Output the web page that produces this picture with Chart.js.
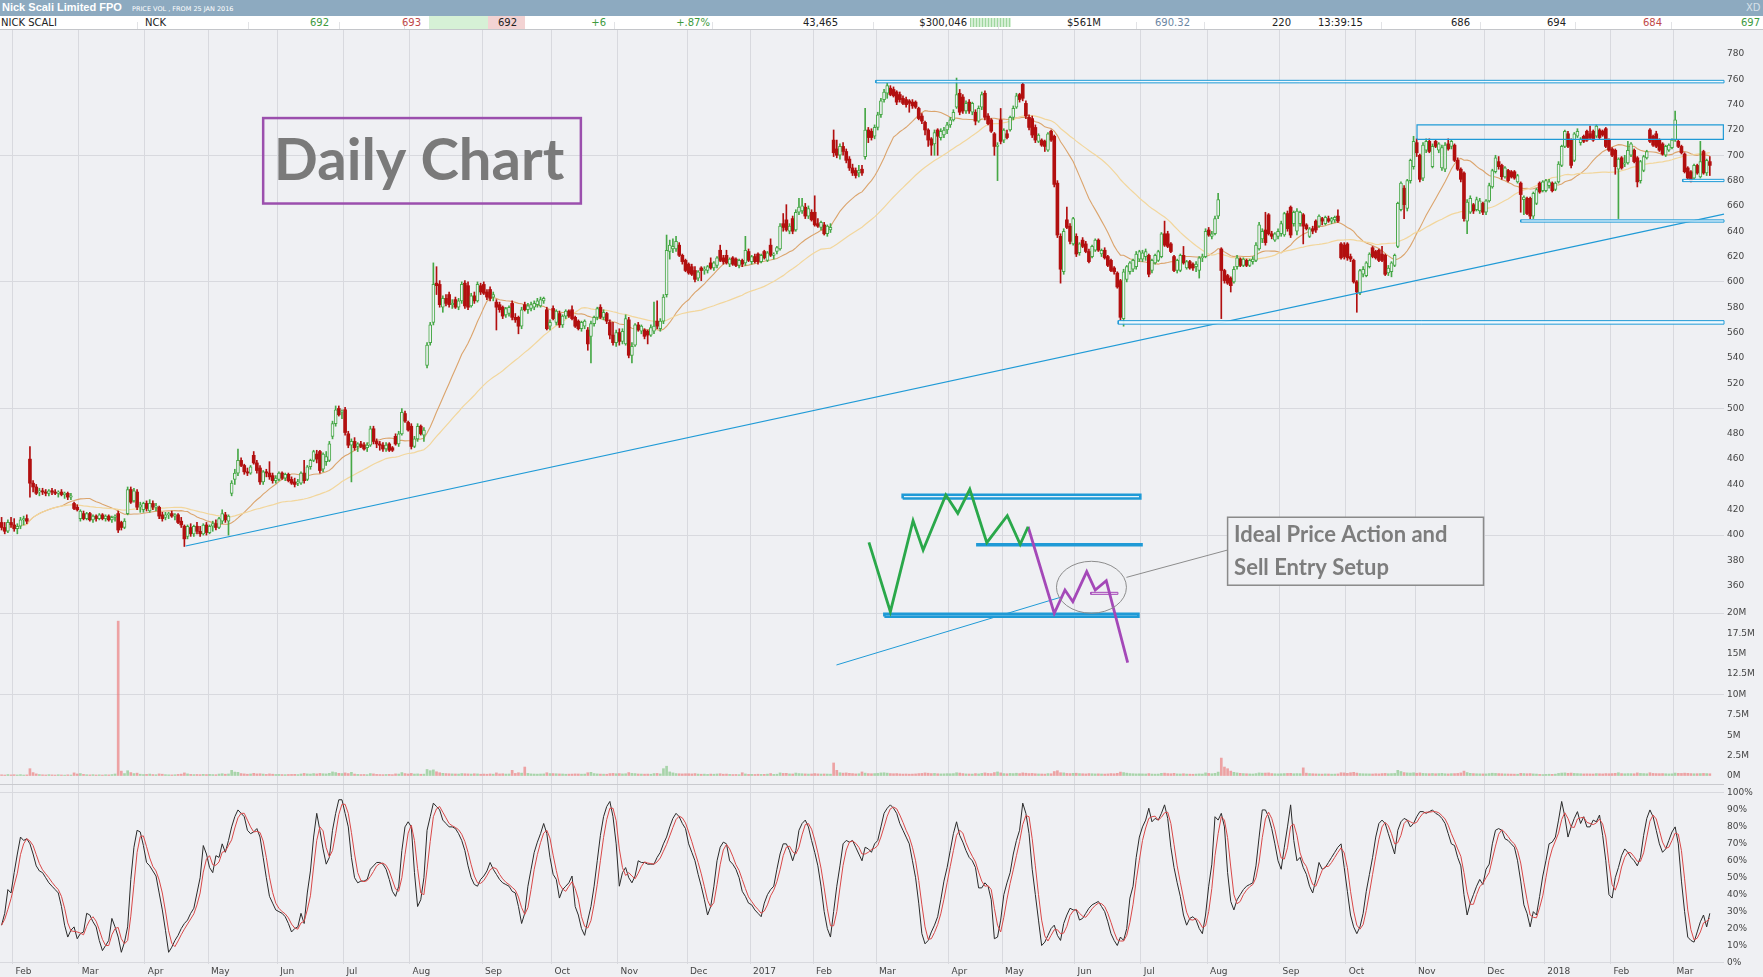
<!DOCTYPE html>
<html><head><meta charset="utf-8">
<script src="https://cdn.jsdelivr.net/npm/chart.js@4.4.1/dist/chart.umd.min.js"></script>
<style>
html,body{margin:0;padding:0;background:#eff0f3;width:1763px;height:977px;overflow:hidden}
#c{position:absolute;left:0;top:0}
#hdr{position:absolute;left:0;top:0;width:1763px;height:16px;background:#8daac0;color:#fff;z-index:2}
#row{position:absolute;left:0;top:16px;width:1763px;height:13px;background:#fff;border-bottom:1px solid #c4c6ca;z-index:2;font:10px 'DejaVu Sans',sans-serif;color:#222}
#row span{position:absolute;top:0px;line-height:13px;white-space:nowrap}
.r{text-align:right}
</style></head>
<body>
<div id="hdr">
 <span style="position:absolute;left:2px;top:1px;font:bold 11px 'Liberation Sans',sans-serif;">Nick Scali Limited FPO</span>
 <span style="position:absolute;left:132px;top:5px;font:6.5px 'DejaVu Sans',sans-serif;">PRICE VOL , FROM 25 JAN 2016</span>
 <span style="position:absolute;left:1746px;top:2px;font:10px 'DejaVu Sans',sans-serif;color:#d6e0e8">XD</span>
</div>
<div id="row"></div>
<canvas id="c" width="1763" height="977"></canvas>
<script>
// ---------------- DATA ----------------
// daily candles [open, high, low, close], 25 Jan 2016 - 16 Mar 2018
const candles = [
// Jan 2016
[410,414,404,406],[406,410,401,403],[403,412,402,410],[410,414,406,408],
// Feb 2016
[408,413,403,405],[405,409,401,407],[407,414,405,412],[412,415,408,413],[413,416,409,411],[460,470,430,441],[441,443,434,438],[438,440,432,433],[434,437,431,435],[435,437,432,434],[434,436,431,433],[433,436,431,435],[435,437,432,434],[434,436,432,433],[433,435,430,434],[434,436,431,432],[432,434,429,433],[433,434,428,430],[430,433,428,431],[425,426,420,421],[422,424,419,420],
// Mar 2016
[413,420,411,419],[417,419,412,413],[413,418,412,417],[417,418,411,412],[412,416,410,415],[415,416,411,413],[413,417,412,416],[416,417,412,413],[413,416,411,415],[415,416,411,412],[412,415,410,414],[414,416,411,415],[417,419,402,404],[410,411,404,406],[406,413,405,411],[417,438,416,436],[436,438,425,426],[427,437,426,435],[434,436,420,422],[422,426,418,424],[420,426,418,425],
// Apr 2016
[425,427,419,421],[419,428,418,425],[425,427,420,422],[422,425,419,423],[422,423,413,415],[416,418,411,413],[414,418,412,416],[416,418,413,417],[417,419,414,415],[415,417,412,416],[416,417,409,410],[411,414,406,408],[407,408,391,397],[399,408,397,407],[406,409,399,401],[401,408,399,407],[407,410,401,403],[403,407,399,401],[401,409,400,408],[408,410,400,402],
// May 2016
[402,408,401,407],[407,411,403,409],[409,412,404,406],[406,414,405,413],[411,420,409,417],[416,418,410,412],[411,416,400,415],[433,443,431,441],[444,452,440,449],[449,468,447,459],[459,461,454,455],[455,456,448,450],[450,453,447,449],[449,455,448,454],[463,466,456,457],[457,459,449,451],[453,455,440,442],[442,451,440,450],[450,452,446,449],[449,458,444,446],[447,449,441,443],[443,447,441,445],
// Jun 2016
[444,450,443,449],[449,450,444,445],[445,449,443,448],[448,449,442,443],[444,446,440,441],[442,445,438,440],[441,444,439,442],[441,450,440,449],[449,459,441,443],[444,455,443,454],[454,460,452,459],[459,467,458,466],[464,467,457,460],[466,467,449,451],[452,465,450,464],[458,466,455,462],[459,474,458,472],[478,490,476,488],[488,502,486,499],[500,502,494,495],[497,499,492,497],
// Jul 2016
[499,501,479,481],[480,482,469,471],[471,476,442,474],[474,477,467,469],[470,473,466,472],[472,474,469,470],[471,473,467,468],[469,473,466,471],[471,486,470,484],[484,486,472,474],[474,476,469,472],[472,474,467,471],[471,473,466,468],[468,473,466,471],[472,473,466,467],[469,470,466,467],[478,480,471,472],[472,482,470,480],[480,500,479,497],[496,498,489,490],[489,490,482,483],
// Aug 2016
[486,488,468,470],[470,478,469,476],[476,488,474,486],[486,487,479,480],[479,485,474,483],[534,552,532,550],[552,568,550,566],[568,615,566,598],[599,612,590,597],[598,601,580,582],[580,589,576,587],[587,590,581,583],[590,592,580,582],[582,586,579,583],[586,588,579,580],[580,587,578,585],[585,600,583,598],[599,601,579,581],[597,600,578,580],[581,591,580,589],[589,592,583,585],[585,600,584,598],[597,599,590,592],
// Sep 2016
[598,600,590,591],[592,594,586,588],[594,596,585,587],[588,592,585,590],[584,586,562,580],[582,584,576,578],[580,581,571,573],[574,580,572,579],[575,581,573,580],[583,585,570,572],[572,575,568,570],[572,573,559,565],[565,580,563,578],[582,584,577,578],[578,583,575,581],[579,584,577,582],[580,585,578,583],[582,587,580,585],[581,588,580,586],[585,588,583,587],[578,580,562,563],[565,570,562,568],
// Oct 2016
[579,581,570,571],[568,578,566,577],[575,577,564,566],[566,574,564,573],[573,578,571,577],[577,578,572,573],[578,581,570,571],[572,573,564,565],[569,570,562,563],[563,569,561,568],[565,570,563,569],[562,564,546,551],[557,569,536,567],[567,573,565,572],[572,580,570,579],[580,582,571,572],[572,578,570,576],[575,576,567,569],[568,570,555,558],[558,568,550,552],[552,562,549,560],
// Nov 2016
[560,563,550,553],[553,563,551,561],[551,574,550,571],[570,572,540,542],[542,552,536,549],[550,567,549,566],[566,568,561,562],[561,566,559,565],[562,563,555,557],[561,562,551,558],[558,566,557,564],[561,584,559,565],[569,585,563,565],[563,571,561,569],[569,590,567,588],[590,637,588,625],[624,633,618,629],[626,634,623,628],[626,636,624,632],[629,631,620,621],[621,622,614,616],[617,618,608,609],
// Dec 2016
[614,615,606,607],[612,614,605,606],[609,612,600,602],[603,609,601,608],[611,612,601,609],[609,612,606,610],[609,613,607,612],[615,619,610,611],[611,616,609,615],[613,620,611,619],[625,629,616,617],[619,621,614,616],[621,625,614,615],[614,619,612,618],[619,620,613,614],[618,619,612,613],[613,618,611,617],[617,618,612,614],[615,636,613,625],[624,626,616,617],
// Jan 2017
[616,621,614,620],[620,622,615,616],[622,623,614,616],[616,622,615,621],[624,625,618,619],[617,624,616,623],[629,634,620,621],[621,623,618,622],[624,628,622,627],[626,646,625,644],[646,654,640,643],[649,661,640,641],[640,646,638,644],[650,652,638,640],[641,657,640,655],[655,666,653,659],[656,666,654,660],[659,662,650,652],[652,660,650,658],[655,657,648,649],
// Feb 2017
[655,668,644,645],[646,650,643,644],[643,648,641,647],[645,647,637,638],[638,645,636,644],[641,646,639,643],[712,720,699,702],[705,712,698,700],[700,709,697,707],[707,710,700,703],[703,705,694,696],[697,699,688,690],[690,693,684,686],[688,690,682,684],[686,692,683,688],[689,692,684,686],[699,737,697,720],[720,722,710,714],[719,721,712,714],[715,724,713,722],
// Mar 2017
[722,734,720,732],[732,745,730,743],[744,752,742,750],[749,757,745,755],[753,755,747,748],[752,754,746,747],[750,751,740,742],[748,750,742,744],[745,747,740,741],[744,746,738,740],[743,744,734,741],[742,744,737,739],[742,743,737,738],[737,738,728,729],[731,733,725,727],[726,727,716,720],[720,721,707,712],[713,714,700,708],[709,720,700,718],[720,721,700,715],[714,721,712,719],[716,722,714,720],[720,726,717,724],
// Apr 2017
[724,730,722,728],[728,736,727,734],[738,761,737,748],[749,752,732,734],[746,748,733,735],[735,743,733,741],[742,744,733,735],[734,742,732,741],[734,736,724,727],[727,739,726,737],[738,750,736,748],[749,751,728,730],[731,733,724,725],[728,729,718,719],[717,718,700,707],[707,710,680,708],[728,737,709,711],
// May 2017
[712,721,710,720],[717,720,713,714],[720,731,719,730],[730,739,728,737],[738,749,737,747],[748,749,742,744],[756,757,743,745],[741,743,729,731],[730,732,720,722],[729,731,714,716],[722,724,710,712],[711,717,710,716],[712,713,707,708],[711,712,703,707],[704,718,703,717],[719,720,711,712],[715,716,675,677],[678,680,635,637],[636,638,599,610],[608,642,606,640],[649,659,642,643],[644,646,630,632],[630,651,629,650],
// Jun 2017
[636,638,620,622],[623,631,621,630],[633,635,627,628],[630,632,623,624],[624,626,615,616],[620,629,619,628],[625,634,624,633],[633,634,624,625],[622,626,620,625],[625,627,618,619],[620,621,612,613],[617,618,608,609],[611,612,606,608],[607,608,595,596],[601,602,570,572],[571,610,565,608],[602,613,600,612],[608,616,606,615],[610,618,608,617],[612,624,610,622],[618,625,616,624],
// Jul 2017
[618,625,616,623],[620,626,617,624],[621,622,604,606],[609,618,607,617],[615,622,614,621],[617,625,616,624],[620,639,619,638],[638,648,628,629],[638,640,627,628],[630,631,623,624],[620,621,608,609],[609,618,607,617],[609,622,608,621],[621,628,614,615],[611,617,610,616],[616,617,610,611],[614,615,609,611],[612,616,608,614],[609,620,603,619],[619,622,616,620],[620,642,619,640],
// Aug 2017
[641,643,636,637],[636,640,634,638],[638,652,637,650],[652,670,650,665],[626,627,571,609],[609,610,599,601],[605,606,598,599],[603,604,592,597],[600,612,599,610],[612,621,610,619],[618,619,612,613],[613,619,612,618],[617,618,612,613],[613,618,612,617],[616,620,614,618],[617,631,616,629],[626,647,625,645],[634,642,631,640],[641,655,629,631],[653,654,637,638],[638,640,634,636],[633,639,632,638],[636,642,634,640],
// Sep 2017
[638,648,636,646],[637,655,636,654],[654,656,640,642],[659,660,635,637],[646,656,644,655],[640,658,637,656],[646,656,644,655],[653,654,630,644],[645,646,641,642],[636,643,635,642],[642,644,638,640],[648,649,639,641],[644,653,643,652],[650,651,645,648],[646,652,645,651],[650,652,647,648],[648,651,646,650],[649,652,647,651],[652,657,647,648],[630,631,618,619],[629,631,618,620],
// Oct 2017
[630,631,617,619],[620,622,616,618],[617,618,599,600],[600,601,576,592],[591,610,590,609],[606,612,604,610],[605,616,604,615],[612,623,611,622],[627,628,619,620],[624,625,618,619],[625,626,616,617],[622,628,616,617],[621,622,605,606],[607,613,605,611],[608,616,604,615],[613,622,612,621],[628,663,627,662],[657,679,656,678],[674,676,650,661],[658,681,656,680],[680,697,678,696],[691,715,689,711],
// Nov 2017
[710,713,699,702],[700,701,679,681],[682,710,680,708],[704,713,702,711],[711,713,702,703],[691,709,690,707],[711,712,706,707],[704,710,702,709],[690,708,688,706],[689,710,687,708],[709,713,704,705],[707,712,705,711],[708,709,695,696],[696,698,688,689],[689,690,679,681],[686,687,648,650],[648,665,638,663],[655,668,654,666],[661,662,654,656],[657,667,656,665],[656,666,654,664],[662,663,653,655],
// Dec 2017
[655,665,653,664],[664,678,663,676],[675,689,674,688],[687,700,686,698],[695,699,689,691],[692,693,681,683],[683,691,682,690],[688,689,679,680],[687,688,682,683],[687,688,681,682],[679,685,678,684],[678,679,655,669],[665,668,653,667],[666,667,653,654],[666,667,650,652],[652,671,650,670],[662,674,661,673],[678,679,670,671],[672,680,671,679],
// Jan 2018
[672,681,671,680],[676,681,674,679],[678,679,671,672],[673,679,672,678],[679,695,678,693],[692,708,691,707],[707,720,706,719],[717,719,706,707],[712,713,690,692],[696,718,695,717],[715,721,714,719],[710,714,708,713],[715,716,710,711],[719,720,711,712],[717,723,713,714],[719,720,711,712],[715,724,714,723],[720,721,713,714],[719,720,715,716],[721,722,706,707],[712,713,703,704],
// Feb 2018
[705,706,699,700],[704,705,685,691],[689,698,650,697],[698,699,689,690],[693,700,691,694],[694,711,693,704],[700,710,699,709],[704,705,694,695],[698,699,675,679],[680,696,678,695],[688,700,687,699],[698,704,697,703],[720,721,710,711],[715,716,707,708],[717,719,706,707],[712,713,703,704],[709,710,700,701],[700,708,699,707],[704,709,703,708],[706,713,705,712],
// Mar 2018
[712,735,711,728],[711,712,706,707],[707,708,701,702],[701,702,686,687],[690,691,681,682],[687,688,679,680],[682,693,681,692],[692,693,685,686],[683,711,682,695],[703,704,685,686],[686,697,684,696],[695,699,684,692]
];

// daily volume, thousands of shares
const volumesK = [
150,120,180,140,
160,130,170,120,140,900,420,260,180,150,130,170,140,120,160,130,110,150,120,380,250,
300,200,160,140,170,130,150,120,160,140,180,250,19000,600,300,650,420,300,350,220,180,
200,240,180,160,260,220,170,150,140,160,200,230,380,260,200,180,190,170,210,180,
200,180,160,240,280,220,250,700,480,450,300,260,220,250,330,260,280,240,200,260,220,190,
200,180,170,190,200,210,180,250,320,260,240,300,260,320,280,260,330,500,420,330,300,
380,300,450,240,200,180,190,170,300,260,200,180,170,190,200,170,260,240,420,300,250,
320,240,260,220,230,800,650,750,520,400,330,300,280,260,250,240,300,280,260,240,280,260,220,
240,220,260,230,380,260,280,240,250,700,320,400,350,1100,320,260,240,230,250,260,400,300,
300,280,260,250,220,230,240,260,250,230,240,400,450,300,260,240,230,220,300,320,280,
300,260,280,420,320,300,250,240,230,240,220,300,320,260,900,1200,500,380,300,280,260,280,
280,260,300,240,220,230,200,240,220,250,280,220,240,200,180,190,170,400,250,200,
200,190,220,200,210,230,300,200,220,380,320,330,260,250,360,300,280,260,240,250,
300,260,240,250,240,230,1600,700,400,350,380,330,300,260,280,500,350,300,280,300,
320,380,400,350,300,280,300,260,240,250,230,240,260,300,320,380,340,300,320,280,260,270,290,
280,300,400,360,300,260,250,240,300,260,320,380,320,300,420,500,380,
300,280,320,300,340,300,380,340,300,320,280,260,250,240,300,280,550,650,400,380,320,300,330,
340,300,280,260,300,280,260,270,250,240,260,300,280,330,480,420,350,300,280,260,270,
260,250,300,240,230,240,330,350,300,280,330,260,250,280,240,230,220,240,260,240,380,
320,280,330,480,2200,1100,900,600,450,380,330,300,280,260,250,300,380,350,360,380,300,280,260,
280,300,320,330,280,300,290,1000,350,300,280,260,250,240,260,250,230,240,260,400,380,
330,400,450,360,300,280,270,260,250,280,260,300,320,280,300,320,700,550,420,380,360,400,
340,380,320,300,290,310,280,300,330,280,260,290,300,320,380,600,420,330,300,280,270,260,
260,300,340,320,300,280,260,250,240,230,220,330,300,280,300,260,240,200,180,
200,220,210,230,320,360,380,330,360,320,300,280,260,270,260,250,300,280,260,300,280,
300,330,400,300,280,300,290,280,380,320,300,280,400,320,300,290,300,280,260,270,
360,330,320,350,330,300,280,290,300,320,300,280
];

// stochastic %K (black line), read per day
const stochK = [
22,29,43,41,
53,64,74,72,73,70,64,57,54,53,50,47,45,43,41,33,22,15,19,21,14,
17,18,29,28,24,21,13,7,10,13,26,21,15,6,12,21,49,68,78,77,69,
59,57,54,51,41,31,19,6,9,13,16,20,23,25,29,32,41,50,69,64,
56,53,63,62,70,65,72,80,86,90,88,86,78,76,77,79,74,62,50,39,35,31,
30,29,27,23,18,20,21,29,23,41,54,74,88,78,67,58,62,78,88,96,96,
88,80,62,50,47,48,48,49,55,57,59,59,58,55,49,42,39,45,66,80,83,
80,53,33,37,50,78,86,94,92,90,84,82,80,80,79,76,72,66,57,50,46,45,49,
51,54,59,55,52,49,47,46,45,42,41,33,23,29,45,55,65,71,76,82,76,62,
52,49,38,43,45,47,51,33,28,20,16,25,33,45,60,75,86,92,95,86,70,
45,53,56,50,47,51,60,59,59,58,58,58,62,65,70,74,80,85,88,86,82,79,
70,65,60,52,45,37,28,33,45,60,68,71,70,60,58,55,50,42,39,35,
34,31,29,27,35,40,43,45,55,64,70,70,66,60,66,78,82,84,80,72,
65,57,45,30,20,15,30,45,57,70,72,71,72,68,64,60,68,67,65,70,
72,80,88,91,93,91,88,82,78,74,70,60,50,35,17,11,13,18,22,27,37,48,56,
66,76,83,75,71,66,62,60,56,44,44,47,45,37,14,15,25,
40,47,53,64,72,78,94,88,76,55,40,25,10,12,16,20,22,16,13,23,28,32,31,
31,25,26,29,32,34,35,36,33,30,24,17,13,10,15,13,20,38,45,62,74,
80,84,91,83,85,84,88,93,85,68,56,47,39,28,22,26,27,25,20,17,28,
45,58,86,84,88,80,53,36,31,37,40,43,45,46,47,57,74,90,90,86,79,70,60,
55,68,80,93,72,60,62,56,52,45,41,49,59,55,56,59,62,65,68,70,56,
42,28,21,17,21,29,42,52,62,74,82,84,82,76,70,64,78,83,85,84,80,82,
86,89,89,88,89,90,88,87,85,82,76,70,69,62,57,40,28,35,40,45,49,46,
55,58,70,78,79,78,73,72,70,68,60,48,34,29,21,30,28,39,51,
60,70,71,74,84,95,86,74,80,85,89,82,86,80,80,84,83,87,75,60,40,
38,50,56,63,67,65,62,60,57,62,75,85,90,86,78,70,65,67,72,77,
80,70,48,30,15,13,12,18,24,28,21,29
];

const monthNames = ['Jan','Feb','Mar','Apr','May','Jun','Jul','Aug','Sep','Oct','Nov','Dec'];
const asxHolidays = ['2016-01-26','2016-03-25','2016-03-28','2016-04-25','2016-06-13','2016-12-26','2016-12-27',
 '2017-01-02','2017-01-26','2017-04-14','2017-04-17','2017-04-25','2017-06-12','2017-12-25','2017-12-26','2018-01-01','2018-01-26'];
const priceTicks = [360,380,400,420,440,460,480,500,520,540,560,580,600,620,640,660,680,700,720,740,760,780];
const volumeTicks = [0,2.5,5,7.5,10,12.5,15,17.5,20];
const stochTicks = [0,10,20,30,40,50,60,70,80,90,100];

// annotation geometry in (trading-day index, price)
const trendMain = [[58.4,391.4],[546.5,653.5]];
const zoneTop = [277.4,546.5,757.2,759.2];
const zoneHigh = [449.1,546.3,712.6,724.0];
const zoneMid = [482.0,546.5,647.2,649.0];
const zoneSmall = [533.4,546.5,679.2,681.0];
const zoneLow = [354.3,546.5,566.6,569.4];
const idealTopBox = [285.9,361.3,428.9,431.9];
const idealBottomBox = [280.1,360.7,335.6,337.9];
const idealMidLine = [[309.2,392.3],[362.1,392.3]];
const idealGreen = [[275.2,394.3],[282.0,339.5],[289.2,411.4],[292.4,388.2],[299.6,431.7],[303.4,417.2],[307.2,436.2],[312.6,394.0],[319.1,415.3],[323.2,392.7],[325.7,406.6]];
const idealPurple = [[325.7,406.6],[334.0,338.2],[337.4,356.6],[339.9,347.4],[344.3,371.1],[347.0,356.6],[350.5,364.0],[357.3,299.2]];
const idealTrend = [[264.9,297.4],[336.7,351.4]];
const entryMark = [345.6,354.2,353.2,354.8];
const connector = [[356.9,366.6],[389.0,388.2]];
const circle = {cx:345.8, cy:358.8, rx:11.1, ry:20.5};
const dailyBox = [83.0,183.8,661.9,729.4];
const idealBox = [389.0,470.2,360.4,414.1];

// ---------------- HEADER ROW ----------------
const rowCells = [
 {t:'NICK SCALI',l:1},{t:'NCK',l:145},{t:'692',r:329,c:'#3d9a3d'},{t:'693',r:421,c:'#c04848'},
 {t:'692',r:517},{t:'+6',r:606,c:'#3d9a3d'},{t:'+.87%',r:710,c:'#3d9a3d'},{t:'43,465',r:838},
 {t:'$300,046',r:967},{t:'$561M',r:1101},{t:'690.32',r:1190,c:'#6b86a3'},{t:'220',r:1291},
 {t:'13:39:15',l:1318},{t:'686',r:1470},{t:'694',r:1566},{t:'684',r:1662,c:'#c04848'},{t:'697',r:1760,c:'#3d9a3d'}
];
(function(){
 const row = document.getElementById('row');
 let h = '<span style="left:429px;width:59px;height:13px;background:#d6f1d6"></span>'+
         '<span style="left:488px;width:37px;height:13px;background:#f3d3d3"></span>'+
         '<span style="left:970px;top:2px;width:41px;height:9px;background:repeating-linear-gradient(90deg,#9fd69f 0 1px,#d4efd4 1px 3px)"></span>';
 [137,248,339,404,614,712,873,998,1136,1204,1381,1480,1575,1671].forEach(x=>{h+='<span style="left:'+x+'px;top:6px;width:1px;height:7px;background:#e2e3e6"></span>';});
 rowCells.forEach(c=>{
   const col = c.c ? 'color:'+c.c+';' : '';
   if (c.l!==undefined) h += '<span style="left:'+c.l+'px;'+col+'">'+c.t+'</span>';
   else h += '<span class="r" style="right:'+(1763-c.r)+'px;'+col+'">'+c.t+'</span>';
 });
 row.innerHTML = h;
})();

// ---------------- BUILD ----------------
const BG='#eff0f3', GRID='#d8d9de', GREEN='#46a846', RED='#b20f0f';
const closes = candles.map(c=>c[3]);
function sma(arr,n){return arr.map((_,i)=>{const s=Math.max(0,i-n+1);let t=0;for(let j=s;j<=i;j++)t+=arr[j];return t/(i-s+1);});}
const sma20 = sma(closes,20), sma50 = sma(closes,50);
const stochD = sma(stochK,3);

// trading calendar -> month ticks
const days=[];
(function(){let d=new Date(Date.UTC(2016,0,25));while(days.length<candles.length){const wd=d.getUTCDay();const iso=d.toISOString().slice(0,10);if(wd!==0&&wd!==6&&asxHolidays.indexOf(iso)<0)days.push(new Date(d));d.setUTCDate(d.getUTCDate()+1);}})();
const monthTicks=[];
days.forEach((d,i)=>{if(i>0&&d.getUTCMonth()!==days[i-1].getUTCMonth())monthTicks.push({value:i-0.5,label:' '+(d.getUTCMonth()===0?String(d.getUTCFullYear()):monthNames[d.getUTCMonth()])});});

const isUp = candles.map(c=>c[3]>=c[0]);
const wicks = candles.map((c,i)=>({x:i,y:[c[2],c[1]]}));
const upBodies=[], downBodies=[];
candles.forEach((c,i)=>{const b={x:i,y:[Math.min(c[0],c[3]),Math.max(c[0],c[3])]};(isUp[i]?upBodies:downBodies).push(b);});
const vols = volumesK.map((v,i)=>({x:i,y:v*1000}));
const pts = a=>a.map(p=>({x:p[0],y:p[1]}));
const rect = r=>[{x:r[0],y:r[2]},{x:r[1],y:r[2]},{x:r[1],y:r[3]},{x:r[0],y:r[3]},{x:r[0],y:r[2]}];

function lineDS(data,color,width,order,extra){return Object.assign({type:'line',yAxisID:'yp',data:data,borderColor:color,borderWidth:width,pointRadius:0,tension:0,fill:false,order:order,borderJoinStyle:'miter'},extra||{});}
function noteDS(data,color,width,order,extra){return lineDS(data,color,width,order,Object.assign({clip:false},extra||{}));}
function shapeDS(r,color,fillc,width){return noteDS(rect(r),color,width,1,{backgroundColor:fillc,fill:fillc?'shape':false});}

const BLUE='#1f9ad6';
const datasets = [
 {type:'bar',yAxisID:'yv',data:vols,backgroundColor:isUp.map(u=>u?'rgba(110,190,110,0.55)':'rgba(235,110,110,0.6)'),barThickness:2,grouped:false,order:9},
 {type:'line',yAxisID:'ys',data:stochK.map((v,i)=>({x:i,y:v})),borderColor:'#2a2a2a',borderWidth:1,pointRadius:0,tension:0,order:8},
 {type:'line',yAxisID:'ys',data:stochD.map((v,i)=>({x:i,y:v})),borderColor:'#d94848',borderWidth:1,pointRadius:0,tension:0,order:7},
 lineDS(sma50.map((v,i)=>({x:i,y:v})),'#f2d69c',1.2,6),
 lineDS(sma20.map((v,i)=>({x:i,y:v})),'#dba46c',1.1,6),
 {type:'bar',yAxisID:'yp',data:wicks,backgroundColor:isUp.map(u=>u?GREEN:RED),barThickness:1,grouped:false,order:5},
 {type:'bar',yAxisID:'yp',data:upBodies,backgroundColor:BG,borderColor:GREEN,borderWidth:1,borderSkipped:false,barThickness:3,grouped:false,minBarLength:1,order:4},
 {type:'bar',yAxisID:'yp',data:downBodies,backgroundColor:RED,borderColor:RED,borderWidth:0,borderSkipped:false,barThickness:3,grouped:false,minBarLength:1,order:4},
 noteDS(pts(trendMain),BLUE,1.2,2),
 shapeDS(zoneTop,BLUE,'rgba(240,250,255,0.9)',1),
 shapeDS(zoneHigh,BLUE,null,1.2),
 shapeDS(zoneMid,BLUE,'rgba(240,250,255,0.9)',1),
 shapeDS(zoneSmall,BLUE,'rgba(240,250,255,0.9)',1),
 shapeDS(zoneLow,BLUE,'rgba(240,250,255,0.9)',1),
 noteDS(pts(idealTrend),BLUE,1,2),
 shapeDS(idealTopBox,BLUE,'#e2f2fa',2.6),
 shapeDS(idealBottomBox,BLUE,'#e2f2fa',2.6),
 noteDS(pts(idealMidLine),BLUE,3.5,1),
 noteDS(pts(idealGreen),'#2aa84a',2.8,0),
 noteDS(pts(idealPurple),'#a448b8',2.8,0),
 shapeDS(entryMark,'#a448b8','#ecdcf0',1),
 noteDS(pts(connector),'#8c8c8c',1,0)
];

const tickFont = {family:"'DejaVu Sans', sans-serif", size:9};
const fix39 = s=>{s.width=39;};
const notes = {
 id:'notes',
 beforeDatasetsDraw(chart){
   const {ctx, chartArea, scales} = chart;
   ctx.save(); ctx.strokeStyle='#c9cace'; ctx.lineWidth=1;
   const y = Math.round(scales.yv.bottom)+0.5;
   ctx.beginPath(); ctx.moveTo(chartArea.left,y); ctx.lineTo(chartArea.right,y); ctx.stroke();
   ctx.restore();
 },
 afterDatasetsDraw(chart){
   const {ctx, scales:{x, yp}} = chart;
   const X=v=>x.getPixelForValue(v), Y=v=>yp.getPixelForValue(v);
   ctx.save();
   // circle round the entry
   ctx.strokeStyle='#8c8c8c'; ctx.lineWidth=1;
   ctx.beginPath();
   ctx.ellipse(X(circle.cx),Y(circle.cy),X(circle.cx+circle.rx)-X(circle.cx),Y(circle.cy-circle.ry)-Y(circle.cy),0,0,Math.PI*2);
   ctx.stroke();
   // Daily Chart box
   let x0=X(dailyBox[0]), x1=X(dailyBox[1]), yT=Y(dailyBox[3]), yB=Y(dailyBox[2]);
   ctx.strokeStyle='#9b4fad'; ctx.lineWidth=2.5;
   ctx.strokeRect(x0,yT,x1-x0,yB-yT);
   ctx.fillStyle='#7a7a7a'; ctx.font="bold 58px Lato, 'Open Sans', sans-serif"; ctx.textAlign='center'; ctx.textBaseline='alphabetic';
   ctx.fillText('Daily Chart',(x0+x1)/2-3,yT+62);
   // Ideal price action box
   x0=X(idealBox[0]); x1=X(idealBox[1]); yT=Y(idealBox[3]); yB=Y(idealBox[2]);
   ctx.fillStyle=BG; ctx.fillRect(x0,yT,x1-x0,yB-yT);
   ctx.strokeStyle='#8a8a8a'; ctx.lineWidth=1.5; ctx.strokeRect(x0,yT,x1-x0,yB-yT);
   ctx.fillStyle='#7d7d7d'; ctx.font="bold 22px Lato, 'Open Sans', sans-serif"; ctx.textAlign='left';
   ctx.fillText('Ideal Price Action and',x0+6.5,yT+24.5);
   ctx.fillText('Sell Entry Setup',x0+6.5,yT+57.5);
   ctx.restore();
 }
};

new Chart(document.getElementById('c'),{
 type:'bar',
 data:{datasets:datasets},
 plugins:[notes],
 options:{
  responsive:false, animation:false, events:[],
  layout:{padding:{top:30,left:0,right:0,bottom:0}},
  plugins:{legend:{display:false},tooltip:{enabled:false}},
  scales:{
   x:{type:'linear',position:'bottom',min:-0.5,max:546.5,offset:false,
      afterBuildTicks:s=>{s.ticks=monthTicks.map(t=>({value:t.value}));},
      afterFit:s=>{s.height=13;},
      ticks:{callback:(v,i)=>monthTicks[i]?monthTicks[i].label:'',align:'start',autoSkip:false,maxRotation:0,font:tickFont,color:'#444',padding:2},
      grid:{color:GRID,drawTicks:false,offset:false},border:{display:false}},
   yp:{type:'linear',position:'right',stack:'panels',stackWeight:583,min:338.46,max:798.96,
      afterBuildTicks:s=>{s.ticks=priceTicks.map(v=>({value:v}));},afterFit:fix39,
      ticks:{callback:v=>String(v),autoSkip:false,font:tickFont,color:'#444',padding:3},
      grid:{color:c=>(c.tick&&c.tick.value%100===0)?GRID:'rgba(0,0,0,0)',drawTicks:false},border:{display:false}},
   yv:{type:'linear',position:'right',stack:'panels',stackWeight:171,min:-980000,max:20000000,
      afterBuildTicks:s=>{s.ticks=volumeTicks.map(v=>({value:v*1e6}));},afterFit:fix39,
      ticks:{callback:v=>(v/1e6)+'M',autoSkip:false,font:tickFont,color:'#444',padding:3},
      grid:{color:c=>(c.tick&&(c.tick.value===20e6||c.tick.value===10e6))?GRID:'rgba(0,0,0,0)',drawTicks:false},border:{display:false}},
   ys:{type:'linear',position:'right',stack:'panels',stackWeight:180,min:-0.9,max:105.3,
      afterBuildTicks:s=>{s.ticks=stochTicks.map(v=>({value:v}));},afterFit:fix39,
      ticks:{callback:v=>v+'%',autoSkip:false,font:tickFont,color:'#444',padding:3},
      grid:{color:c=>(c.tick&&(c.tick.value===0||c.tick.value===100))?GRID:'rgba(0,0,0,0)',drawTicks:false},border:{display:false}}
  }
 }
});
</script>
</body></html>
